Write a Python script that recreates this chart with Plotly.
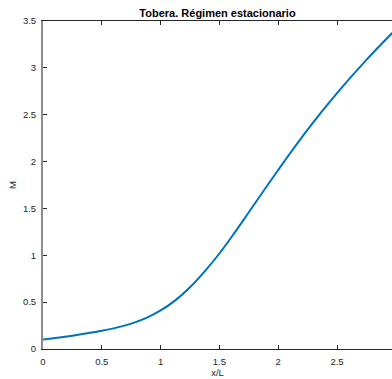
import plotly.graph_objects as go

# Data
x_over_L = [0.0, 0.125, 0.25, 0.375, 0.5, 0.625, 0.75, 0.875, 1.0, 1.125, 1.25, 1.375,
            1.5, 1.625, 1.75, 2.0, 2.25, 2.5, 2.75, 3.0]
mach = [0.10, 0.12, 0.142, 0.167, 0.195, 0.228, 0.271, 0.329, 0.411, 0.519, 0.659, 0.829,
        1.019, 1.234, 1.459, 1.91, 2.34, 2.73, 3.085, 3.41]

x_ticks = [0, 0.5, 1, 1.5, 2, 2.5, 3]
x_tick_labels = ["0", "0.5", "1", "1.5", "2", "2.5", "3"]
y_ticks = [0, 0.5, 1, 1.5, 2, 2.5, 3, 3.5]
y_tick_labels = ["0", "0.5", "1", "1.5", "2", "2.5", "3", "3.5"]

font_family = "Liberation Sans, Arial, sans-serif"
txt = "#262626"

fig = go.Figure()
fig.add_trace(go.Scatter(
    x=x_over_L, y=mach, mode="lines",
    line=dict(color="#0072BD", width=2, shape="spline", smoothing=1.0),
    showlegend=False,
))

fig.update_layout(
    width=392, height=379,
    margin=dict(l=43, r=0, t=21, b=30),
    paper_bgcolor="white", plot_bgcolor="white",
    font=dict(family=font_family, size=9.5, color=txt),
    title=dict(text="<b>Tobera. Régimen estacionario</b>",
               font=dict(size=11, color="black", family=font_family),
               x=0.5, xanchor="center", xref="paper",
               y=1, yref="paper", yanchor="bottom", pad=dict(b=4)),
)

fig.update_xaxes(
    range=[0, 349 / 117.6], tickvals=x_ticks, ticktext=x_tick_labels,
    showgrid=False, zeroline=False,
    showline=True, linecolor=txt, linewidth=1, mirror="ticks",
    ticks="inside", ticklen=4, tickcolor=txt, tickwidth=1,
    ticklabelstandoff=4,
    title=dict(text="x/L", font=dict(size=9.5, color=txt), standoff=2),
)
fig.update_yaxes(
    range=[0, 3.5], tickvals=y_ticks, ticktext=y_tick_labels,
    showgrid=False, zeroline=False,
    showline=True, linecolor="#8c8c8c", linewidth=2, mirror=False,
    ticks="inside", ticklen=4, tickcolor=txt, tickwidth=1,
    ticklabelstandoff=3,
    title=dict(text="M", font=dict(size=9.5, color=txt), standoff=5),
)

fig.write_html("out.html")
